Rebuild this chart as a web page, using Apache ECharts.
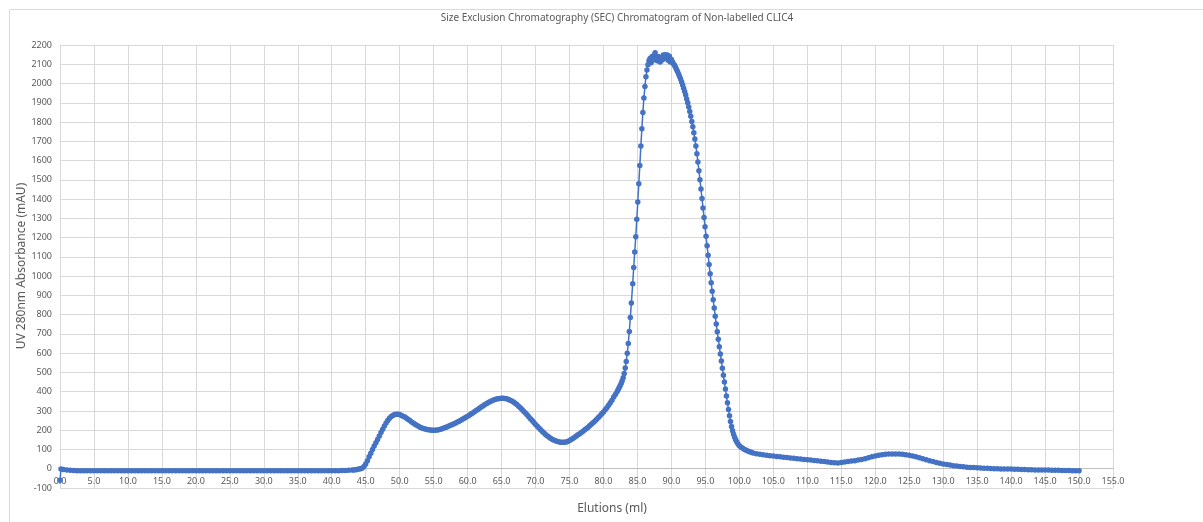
<!DOCTYPE html>
<html>
<head>
<meta charset="utf-8">
<script src="https://cdn.jsdelivr.net/npm/echarts@6/dist/echarts.min.js"></script>
<style>html,body{margin:0;padding:0;background:#fff}#c{width:1203px;height:522px}</style>
</head>
<body>
<div id="c"></div>
<script>
const chartTitle = 'Size Exclusion Chromatography (SEC) Chromatogram of Non-labelled CLIC4';
const xAxisTitle = 'Elutions (ml)';
const yAxisTitle = 'UV 280nm Absorbance (mAU)';

// [elution ml, absorbance mAU]
const baseline = [
  [0,-60],[0.15,-2],[0.5,-4],[1,-6],[1.5,-8],[2,-9],[2.5,-10],[3,-10],[3.5,-10],[4,-10],
  [4.5,-10],[5,-10],[5.5,-10],[6,-10],[6.5,-10],[7,-10],[7.5,-10],[8,-10],[8.5,-10],[9,-10],
  [9.5,-10],[10,-10],[10.5,-10],[11,-10],[11.5,-10],[12,-10],[12.5,-10],[13,-10],[13.5,-10],[14,-10],
  [14.5,-10],[15,-10],[15.5,-10],[16,-10],[16.5,-10],[17,-10],[17.5,-10],[18,-10],[18.5,-10],[19,-10],
  [19.5,-10],[20,-10],[20.5,-10],[21,-10],[21.5,-10],[22,-10],[22.5,-10],[23,-10],[23.5,-10],[24,-10],
  [24.5,-10],[25,-10],[25.5,-10],[26,-10],[26.5,-10],[27,-10],[27.5,-10],[28,-10],[28.5,-10],[29,-10],
  [29.5,-10],[30,-10],[30.5,-10],[31,-10],[31.5,-10],[32,-10],[32.5,-10],[33,-10],[33.5,-10],[34,-10],
  [34.5,-10],[35,-10],[35.5,-10],[36,-10],[36.5,-10],[37,-10],[37.5,-10],[38,-10],[38.5,-10],[39,-10],
  [39.5,-10],[40,-10],[40.5,-10],[41,-10],[41.5,-9],[42,-9],[42.5,-8],[43,-7],[43.25,-6],[43.5,-5],[43.75,-4]
];
const earlyPeaks = [
  [44,-2],[44.25,0],[44.5,4],[44.75,12],[45,25],[45.25,42],[45.5,62],[45.75,81],[46,100],[46.25,118],
  [46.5,135],[46.75,152],[47,170],[47.25,188],[47.5,205],[47.75,222],[48,238],[48.25,251],[48.5,262],[48.75,271],
  [49,277],[49.25,281],[49.5,283],[49.75,283],[50,281],[50.25,277],[50.5,273],[50.75,268],[51,262],[51.25,256],
  [51.5,250],[51.75,243],[52,237],[52.25,231],[52.5,226],[52.75,221],[53,216],[53.25,212],[53.5,209],[53.75,206],
  [54,204],[54.25,202],[54.5,201],[54.75,200],[55,200],[55.25,200],[55.5,201],[55.75,203],[56,205],[56.25,208],
  [56.5,211],[56.75,214],[57,218],[57.25,222],[57.5,226],[57.75,230],[58,234],[58.25,238],[58.5,243],[58.75,247],
  [59,252],[59.25,257],[59.5,262],[59.75,267],[60,273],[60.25,278],[60.5,284],[60.75,290],[61,296],[61.25,302],
  [61.5,308],[61.75,314],[62,320],[62.25,326],[62.5,332],[62.75,338],[63,343],[63.25,348],[63.5,352],[63.75,356],
  [64,359],[64.25,362],[64.5,364],[64.75,365],[65,366],[65.25,366],[65.5,365],[65.75,363],[66,360],[66.25,356],
  [66.5,352],[66.75,346],[67,340],[67.25,333],[67.5,325],[67.75,317],[68,308],[68.25,299],[68.5,290],[68.75,280],
  [69,270],[69.25,260],[69.5,250],[69.75,240],[70,230],[70.25,220],[70.5,211],[70.75,202],[71,193],[71.25,185],
  [71.5,177],[71.75,170],[72,163],[72.25,157],[72.5,152],[72.75,148],[73,144],[73.25,141],[73.5,139],[73.75,138],
  [74,137],[74.25,138],[74.5,139],[74.75,142],[75,147],[75.25,152],[75.5,157],[75.75,163],[76,170],[76.25,176],
  [76.5,182],[76.75,188],[77,195],[77.25,202],[77.5,209],[77.75,216],[78,224],[78.25,232],[78.5,240],[78.75,248],
  [79,257],[79.25,266],[79.5,275],[79.75,285],[80,295],[80.25,306],[80.5,317],[80.75,329],[81,342],[81.25,356],
  [81.5,372],[81.75,386]
];
const mainPeak = [
  [82,400],[82.15,410],[82.3,420],[82.45,431],[82.6,443],[82.75,457],[82.9,472],[83.05,495],[83.2,523],[83.35,557],
  [83.5,600],[83.65,650],[83.8,712],[83.95,785],[84.1,860],[84.3,960],[84.45,1045],[84.6,1125],[84.75,1205],[84.9,1295],
  [85.05,1385],[85.2,1480],[85.35,1575],[85.5,1675],[85.65,1765],[85.8,1850],[85.95,1925],[86.1,1985],[86.25,2035],[86.4,2070],
  [86.55,2098],[86.7,2118],[86.85,2130],[87,2108],[87.15,2140],[87.3,2122],[87.45,2145],[87.6,2160],[87.75,2128],[87.9,2118],
  [88.05,2140],[88.2,2130],[88.35,2112],[88.5,2135],[88.65,2122],[88.8,2148],[88.95,2130],[89.1,2150],[89.25,2138],[89.4,2148],
  [89.55,2120],[89.7,2142],[89.85,2112],[90,2125],[90.15,2112],[90.3,2103],[90.45,2095],[90.6,2085],[90.75,2073],[90.9,2062],
  [91.05,2050],[91.2,2037],[91.35,2023],[91.5,2008],[91.65,1992],[91.8,1976],[91.95,1958],[92.1,1940],[92.25,1920],[92.4,1900],
  [92.55,1878],[92.7,1855],[92.85,1830],[93,1803],[93.15,1775],[93.3,1745],[93.45,1712],[93.6,1676],[93.75,1636],[93.9,1593],
  [94.05,1547],[94.2,1500],[94.35,1452],[94.5,1403],[94.65,1354],[94.8,1305],[94.95,1256],[95.1,1207],[95.25,1158],[95.4,1109],
  [95.55,1060],[95.7,1012],[95.85,966],[96,921],[96.15,877],[96.3,834],[96.45,792],[96.6,751],[96.75,711],[96.9,672],
  [97.05,634],[97.2,596],[97.35,559],[97.5,522],[97.65,486],[97.8,450],[97.95,414],[98.1,378],[98.25,343],[98.4,308],
  [98.55,275],[98.7,245],[98.85,219],[99,197],[99.15,179],[99.3,164],[99.45,151],[99.6,140],[99.8,129],[100,120]
];
const tail = [
  [100.25,112],[100.5,106],[100.75,100],[101,96],[101.25,92],[101.5,88],[101.75,85],[102,82],[102.5,78],[103,75],[103.5,72],[104,70],[104.5,68],[105,66],
  [105.5,64],[106,62],[106.5,60],[107,58],[107.5,56],[108,54],[108.5,52],[109,50],[109.5,48],[110,47],
  [110.5,45],[111,43],[111.5,41],[112,39],[112.5,37],[113,35],[113.5,33],[114,31],[114.5,30],[115,32],
  [115.5,35],[116,38],[116.5,40],[117,42],[117.5,45],[118,48],[118.5,52],[119,57],[119.5,62],[120,66],
  [120.5,70],[121,73],[121.5,75],[122,76],[122.5,77],[123,77],[123.5,76],[124,75],[124.5,73],[125,70],
  [125.5,66],[126,62],[126.5,57],[127,52],[127.5,47],[128,42],[128.5,37],[129,33],[129.5,29],[130,25],
  [130.5,22],[131,19],[131.5,16],[132,14],[132.5,12],[133,10],[133.5,8],[134,7],[134.5,6],[135,5],
  [135.5,4],[136,3],[136.5,2],[137,1],[137.5,0],[138,0],[138.5,-1],[139,-1],[139.5,-2],[140,-2],
  [140.5,-3],[141,-3],[141.5,-4],[142,-4],[142.5,-5],[143,-5],[143.5,-6],[144,-6],[144.5,-7],[145,-7],
  [145.5,-7],[146,-8],[146.5,-8],[147,-8],[147.5,-9],[148,-9],[148.5,-9],[149,-10],[149.5,-10],[150,-11]
];

const xMin = 0, xMax = 155, xStep = 5;
const yMin = -100, yMax = 2200, yStep = 100;

const series = baseline.concat(earlyPeaks, mainPeak, tail);
const FONT = 'Noto Sans';
const GRID = {left: 60, right: 90, top: 45, bottom: 34};
const plotH = 522 - GRID.top - GRID.bottom;
const zeroOffset = -plotH * (0 - yMin) / (yMax - yMin);

const chart = echarts.init(document.getElementById('c'), null, {renderer: 'canvas'});
chart.setOption({
  animation: false,
  backgroundColor: '#ffffff',
  grid: Object.assign({containLabel: false}, GRID),
  xAxis: {
    type: 'value', min: xMin, max: xMax, interval: xStep,
    offset: zeroOffset,
    axisLine: {show: true, onZero: false, lineStyle: {color: '#bfbfbf', width: 1}},
    axisTick: {show: false},
    axisLabel: {fontSize: 9, color: '#595959', fontFamily: FONT, margin: 8, formatter: v => v.toFixed(1)},
    splitLine: {show: true, lineStyle: {color: '#d9d9d9', width: 1}}
  },
  yAxis: {
    type: 'value', min: yMin, max: yMax, interval: yStep,
    axisLine: {show: false},
    axisTick: {show: false},
    axisLabel: {fontSize: 9, color: '#595959', fontFamily: FONT, margin: 8, formatter: v => String(v)},
    splitLine: {show: true, lineStyle: {color: '#d9d9d9', width: 1}}
  },
  series: [{
    type: 'line',
    data: series,
    symbol: 'circle',
    symbolSize: 5.5,
    showAllSymbol: true,
    color: '#4472C4',
    lineStyle: {color: '#4472C4', width: 1.5},
    itemStyle: {color: '#4472C4'},
    clip: false,
    silent: true,
    z: 3
  }],
  graphic: [
    {type: 'rect', left: 7, top: 7, shape: {width: 1210, height: 530}, style: {fill: 'none', stroke: '#d9d9d9', lineWidth: 1}, silent: true},
    {type: 'text', x: 617, y: 18, style: {text: chartTitle, fill: '#595959', font: '10px "Noto Sans"', textAlign: 'center', textVerticalAlign: 'middle'}},
    {type: 'text', x: 612, y: 509, style: {text: xAxisTitle, fill: '#595959', font: '12px "Noto Sans"', textAlign: 'center', textVerticalAlign: 'middle'}},
    {type: 'text', x: 22, y: 266, rotation: Math.PI / 2, style: {text: yAxisTitle, fill: '#595959', font: '12px "Noto Sans"', textAlign: 'center', textVerticalAlign: 'middle'}}
  ]
});
</script>
</body>
</html>
